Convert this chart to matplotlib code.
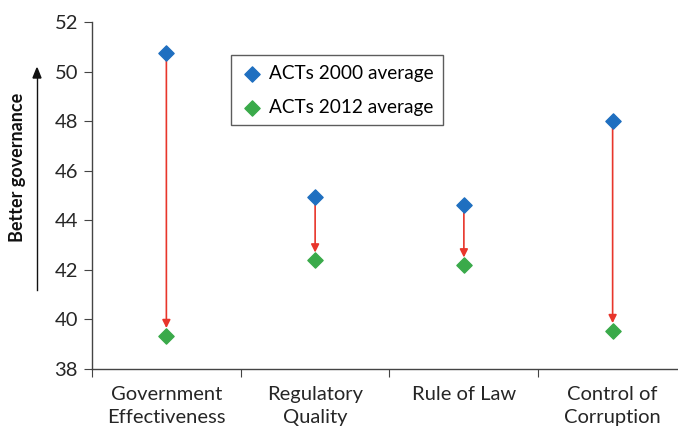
import matplotlib.pyplot as plt

categories = ["Government\nEffectiveness", "Regulatory\nQuality", "Rule of Law", "Control of\nCorruption"]
avg_2000 = [50.75, 44.95, 44.6, 48.0]
avg_2012 = [39.35, 42.4, 42.2, 39.55]

plt.rcParams['font.family'] = ['Lato', 'DejaVu Sans']

W, H = 678, 428
fig = plt.figure(figsize=(W / 100, H / 100), dpi=100)
ax = fig.add_axes([92 / W, (H - 369) / H, (687 - 92) / W, (369 - 22) / H])

x = list(range(len(categories)))
blue = "#1f6fc0"
green = "#3aaa4a"
red = "#e8352b"

# 红色箭头：2000 -> 2012
for xi, a, b in zip(x, avg_2000, avg_2012):
    ax.annotate("", xy=(xi, b + 0.3), xytext=(xi, a - 0.2),
                arrowprops=dict(arrowstyle="-|>", color=red, lw=1.2,
                                mutation_scale=12, shrinkA=0, shrinkB=0))

ax.scatter(x, avg_2000, marker="D", s=60, color=blue, label="ACTs 2000 average", zorder=3)
ax.scatter(x, avg_2012, marker="D", s=60, color=green, label="ACTs 2012 average", zorder=3)

ax.set_xlim(-0.5, 3.5)
ax.set_ylim(38, 52)
ax.set_yticks(range(38, 53, 2))
ax.set_xticks([-0.5, 0.5, 1.5, 2.5, 3.5])
ax.set_xticklabels([])
ax.set_xticks(x, minor=True)
ax.set_xticklabels(categories, minor=True, fontsize=14.5, color="#262626", linespacing=1.45,
                   va="top")
ax.tick_params(axis="x", which="minor", length=0, pad=12)
ax.tick_params(axis="x", which="major", length=6, direction="out", color="#444444")
ax.tick_params(axis="y", length=6, direction="out", labelsize=14.5, labelcolor="#262626",
               color="#444444", pad=4)

for s in ["top", "right"]:
    ax.spines[s].set_visible(False)
for s in ["left", "bottom"]:
    ax.spines[s].set_color("#444444")
    ax.spines[s].set_linewidth(1.0)

leg = ax.legend(loc="upper left", bbox_to_anchor=((231 - 92) / (687 - 92), 1 - (55 - 22) / 347),
                frameon=True, fancybox=False, fontsize=13.7, handletextpad=0.3,
                borderpad=0.5, labelspacing=0.9, handlelength=1.2, borderaxespad=0)
leg.get_frame().set_edgecolor("#333333")
leg.get_frame().set_linewidth(1.0)

fig.text(18 / W, 1 - 167 / H, "Better governance", rotation=90, ha="center", va="center",
         fontsize=13, fontweight="bold", color="#111111")
fig.add_artist(plt.Line2D([37 / W, 37 / W], [1 - 290 / H, 1 - 74 / H], color="#111111", lw=1.0))
fig.patches.append(plt.Polygon([[33 / W, 1 - 78 / H], [41 / W, 1 - 78 / H], [37 / W, 1 - 68 / H]],
                               closed=True, color="#111111", transform=fig.transFigure, figure=fig))

fig.savefig("out.png", dpi=100)
